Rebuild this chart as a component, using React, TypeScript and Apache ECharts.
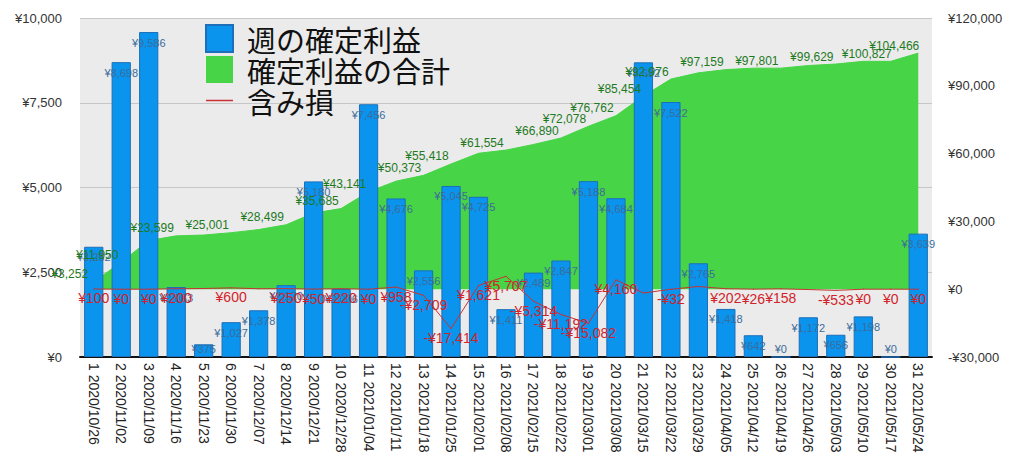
import React, { useEffect, useRef } from "react";
import * as echarts from "echarts";

const weekNos = [1,2,3,4,5,6,7,8,9,10,11,12,13,14,15,16,17,18,19,20,21,22,23,24,25,26,27,28,29,30,31];
const weekDates = [
  "2020/10/26","2020/11/02","2020/11/09","2020/11/16","2020/11/23","2020/11/30","2020/12/07","2020/12/14",
  "2020/12/21","2020/12/28","2021/01/04","2021/01/11","2021/01/18","2021/01/25","2021/02/01","2021/02/08",
  "2021/02/15","2021/02/22","2021/03/01","2021/03/08","2021/03/15","2021/03/22","2021/03/29","2021/04/05",
  "2021/04/12","2021/04/19","2021/04/26","2021/05/03","2021/05/10","2021/05/17","2021/05/24"
];
const weeklyProfit = [3252,8698,9586,2063,375,1027,1378,2120,5180,2006,7456,4676,2556,5045,4725,1411,2489,2847,5188,4684,8692,7522,2765,1418,642,0,1172,656,1198,0,3639];
const totalProfit = [3252,11950,21536,23599,23974,25001,26379,28499,33679,35685,43141,47817,50373,55418,60143,61554,64043,66890,72078,76762,85454,92976,95741,97159,97801,97801,98973,99629,100827,100827,104466];
const unrealized = [100,0,0,200,300,600,200,250,50,220,0,958,-2709,-17414,1621,5707,-5314,-11192,-15082,4160,-1700,-32,1200,202,26,158,-150,-533,0,0,0];
const totalLabelShown = [1,2,4,6,8,10,11,13,14,16,18,19,20,21,22,24,26,28,30,31];
const unrealLabelHidden = [5,7,21,23,27];
const leftTicks = { min: 0, max: 10000, interval: 2500 };
const rightTicks = { min: -30000, max: 120000, interval: 30000 };

const seriesNames = ["週の確定利益", "確定利益の合計", "含み損"];

const yen = (v: number) => (v < 0 ? "-" : "") + "¥" + Math.abs(v).toLocaleString("en-US");

export default function App() {
  const ref = useRef<HTMLDivElement>(null);
  useEffect(() => {
    if (!ref.current) return;
    const chart = echarts.init(ref.current, undefined, { renderer: "svg" });
    const categories = weekNos.map((n, i) => `${n} ${weekDates[i]}`);
    const numFont = "'Liberation Sans', Arial, sans-serif";
    chart.setOption({
      animation: false,
      textStyle: { fontFamily: numFont },
      grid: {
        left: 80, right: 92, top: 18, bottom: 99,
        show: true, backgroundColor: "#ebebeb", borderWidth: 0,
      },
      legend: {
        orient: "vertical",
        left: 200,
        top: 19,
        itemWidth: 27,
        itemHeight: 27,
        itemGap: 2,
        symbolKeepAspect: true,
        textStyle: { fontSize: 29, color: "#111", fontFamily: "'Noto Sans CJK JP', sans-serif", padding: [0, 0, 0, 9] },
        data: [
          { name: seriesNames[0], icon: "rect" },
          { name: seriesNames[1], icon: "rect" },
          { name: seriesNames[2], icon: "path://M0,0L54,0L54,3L0,3Z", itemStyle: { color: "#c83232" } },
        ],
      },
      xAxis: {
        type: "category",
        data: categories,
        axisTick: { show: false },
        axisLine: { lineStyle: { color: "#111", width: 2 } },
        axisLabel: { rotate: -90, fontSize: 14, color: "#222", margin: 6, interval: 0 },
      },
      yAxis: [
        {
          type: "value",
          ...leftTicks,
          axisLine: { show: false },
          axisTick: { show: false },
          axisLabel: { formatter: yen, fontSize: 13, color: "#333", margin: 18 },
          splitLine: { lineStyle: { color: "#c6c6c6", width: 1 } },
        },
        {
          type: "value",
          ...rightTicks,
          axisLine: { show: false },
          axisTick: { show: false },
          axisLabel: { formatter: yen, fontSize: 13, color: "#333", margin: 16 },
          splitLine: { show: false },
        },
      ],
      series: [
        {
          name: seriesNames[1],
          type: "line",
          yAxisIndex: 1,
          symbol: "none",
          color: "#47d447",
          lineStyle: { color: "#47d447", width: 1 },
          areaStyle: { color: "#47d447", opacity: 1 },
          z: 1,
          data: totalProfit,
        },
        {
          name: seriesNames[0],
          type: "bar",
          yAxisIndex: 0,
          barCategoryGap: "30%",
          color: "#0a94ee",
          itemStyle: { color: "#0a94ee", borderColor: "#1c6fb8", borderWidth: 1 },
          z: 2,
          data: weeklyProfit.map((v) => ({
            value: v,
            label: {
              show: true,
              position: v < 500 ? "insideBottom" : "insideTop",
              distance: v < 500 ? 3 : 5,
              fontSize: 11,
              color: "#3a6c9c",
              formatter: (p: any) => yen(p.value),
            },
          })),
        },
        {
          name: seriesNames[2],
          type: "line",
          yAxisIndex: 1,
          symbol: "circle",
          symbolSize: 1,
          showSymbol: true,
          showAllSymbol: true,
          color: "#c83232",
          itemStyle: { color: "#c83232" },
          lineStyle: { color: "#c83232", width: 1 },
          z: 3,
          data: unrealized.map((v, i) => ({
            value: v,
            label: {
              show: !unrealLabelHidden.includes(i + 1),
              position: "bottom",
              distance: 2,
              fontSize: 14,
              color: "#d2232a",
              formatter: (p: any) => yen(p.value),
            },
          })),
        },
        {
          name: "確定利益の合計ラベル",
          type: "line",
          yAxisIndex: 1,
          symbol: "circle",
          symbolSize: 1,
          showSymbol: true,
          showAllSymbol: true,
          itemStyle: { color: "rgba(0,0,0,0)", borderWidth: 0 },
          lineStyle: { width: 0, color: "rgba(0,0,0,0)" },
          silent: true,
          z: 4,
          data: totalProfit.map((v, i) => ({
            value: v,
            label: {
              show: totalLabelShown.includes(i + 1),
              position: "top",
              distance: 1,
              offset: [-24, 0],
              fontSize: 12,
              color: "#1e7a1e",
              formatter: (p: any) => yen(p.value),
            },
          })),
        },
      ],
    });
    return () => chart.dispose();
  }, []);
  return (
    <div
      ref={ref}
      style={{ position: "fixed", left: 0, top: 0, width: 1024, height: 456, background: "#fff" }}
    />
  );
}
